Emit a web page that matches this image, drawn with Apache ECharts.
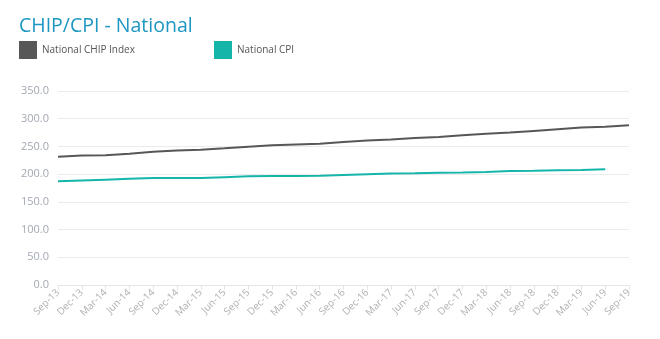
<!DOCTYPE html>
<html>
<head>
<meta charset="utf-8">
<script src="https://cdn.jsdelivr.net/npm/echarts@6/dist/echarts.min.js"></script>
<style>html,body{margin:0;padding:0;background:#fff;}#c{width:660px;height:339px;}</style>
</head>
<body>
<div id="c"></div>
<script>
const categories = ["Sep-13","Dec-13","Mar-14","Jun-14","Sep-14","Dec-14","Mar-15","Jun-15","Sep-15","Dec-15","Mar-16","Jun-16","Sep-16","Dec-16","Mar-17","Jun-17","Sep-17","Dec-17","Mar-18","Jun-18","Sep-18","Dec-18","Mar-19","Jun-19","Sep-19"];
const chipIndex = [231.5,233.5,234,237,240.5,242.5,244,246.5,249.5,252,253.5,255,258,260.5,262.5,265,267,270,273,275,278,281,284,285.5,288];
const cpi = [187,188.5,190,191.5,193,193,193,194.5,196,196.5,196.5,197,198.5,200,201,201.5,202.5,203,204,205.5,206,207,207.5,209,null];
const yTicks = [0,50,100,150,200,250,300,350];

const chart = echarts.init(document.getElementById('c'), null, {renderer:'canvas'});
const font = '"Open Sans", sans-serif';
chart.setOption({
  animation:false,
  textStyle:{fontFamily:font},
  title:{text:'CHIP/CPI - National', left:19, top:16, padding:0, textStyle:{fontFamily:font, fontSize:19.5, fontWeight:'normal', color:'#1d96c2'}},
  legend:[
    {left:19, top:41, padding:0, data:['National CHIP Index'], icon:'rect', itemWidth:18, itemHeight:18, itemGap:6, textStyle:{fontFamily:font, fontSize:10, color:'#555'}},
    {left:214, top:41, padding:0, data:['National CPI'], icon:'rect', itemWidth:18, itemHeight:18, itemGap:6, textStyle:{fontFamily:font, fontSize:10, color:'#555'}}
  ],
  grid:{left:58, right:31, top:91, bottom:54},
  xAxis:{type:'category', data:categories, boundaryGap:false,
    axisLine:{lineStyle:{color:'#e6e6e6'}},
    axisTick:{show:true, lineStyle:{color:'#e6e6e6'}, length:5},
    axisLabel:{rotate:45, color:'#b0b0b0', fontSize:10, fontFamily:font, interval:0, margin:6}},
  yAxis:{type:'value', min:yTicks[0], max:yTicks[yTicks.length-1], interval:50,
    axisLine:{show:false}, axisTick:{show:false},
    splitLine:{lineStyle:{color:'#ebebeb'}},
    axisLabel:{color:'#a3a8b3', fontSize:11, fontFamily:font, margin:9, formatter:v=>v.toFixed(1)}},
  series:[
    {name:'National CHIP Index', type:'line', data:chipIndex, showSymbol:false, symbol:'none', color:'#575757', lineStyle:{width:2, color:'#575757'}},
    {name:'National CPI', type:'line', data:cpi, showSymbol:false, symbol:'none', color:'#15b5aa', lineStyle:{width:2, color:'#15b5aa'}}
  ]
});
</script>
</body>
</html>
